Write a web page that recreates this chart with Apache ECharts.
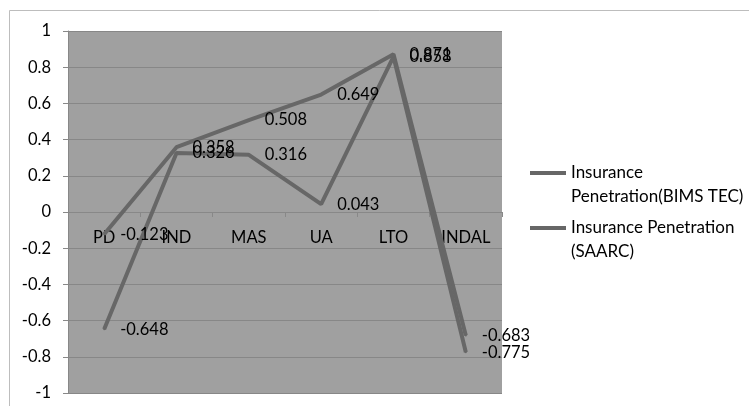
<!DOCTYPE html>
<html><head><meta charset="utf-8">
<script src="https://cdn.jsdelivr.net/npm/echarts@6/dist/echarts.min.js"></script>
<style>html,body{margin:0;padding:0;background:#fff}#c{width:749px;height:406px}</style>
</head><body><div id="c"></div>
<script>
const categories = ['PD', 'IND', 'MAS', 'UA', 'LTO', 'INDAL'];
const bimsTec = [-0.123, 0.358, 0.508, 0.649, 0.871, -0.683];
const saarc = [-0.648, 0.326, 0.316, 0.043, 0.858, -0.775];
const seriesNames = ['Insurance Penetration(BIMS TEC)', 'Insurance Penetration (SAARC)'];
const legendLines = [' \nInsurance\nPenetration(BIMS TEC)', ' \nInsurance Penetration\n(SAARC)'];

const FONT = 'Lato';
const FS = 16.5;
const GRID_H = 362;
const chart = echarts.init(document.getElementById('c'), null, {renderer: 'canvas'});
const lineColor = '#676767';
function mkSeries(name, data) {
  return {
    name: name, type: 'line', data: data,
    symbol: 'circle', symbolSize: 2, showSymbol: true,
    itemStyle: {color: lineColor},
    lineStyle: {color: lineColor, width: 4},
    label: {show: true, position: 'right', distance: 15, color: '#000', fontFamily: FONT, fontSize: FS,
      formatter: p => String(p.value)},
    animation: false
  };
}
const legendCommon = {
  orient: 'vertical', left: 530, padding: 0, icon: 'rect', itemWidth: 36, itemHeight: 4, itemGap: 0,
  textStyle: {fontFamily: FONT, fontSize: 17, color: '#000', lineHeight: 24},
  formatter: n => legendLines[seriesNames.indexOf(n)],
  itemStyle: {color: lineColor}
};
chart.setOption({
  backgroundColor: '#fff',
  animation: false,
  graphic: [{type: 'rect', shape: {x: 9.5, y: 10.5, width: 800, height: 500}, style: {fill: 'none', stroke: '#bdbdbd', lineWidth: 1}}],
  grid: {left: 68, top: 31, width: 434, height: GRID_H, show: true, backgroundColor: '#a0a0a0', borderWidth: 0,
    containLabel: false, outerBoundsMode: 'none'},
  legend: [
    Object.assign({}, legendCommon, {top: 137, data: [seriesNames[0]]}),
    Object.assign({}, legendCommon, {top: 192, data: [seriesNames[1]]})
  ],
  xAxis: {
    type: 'category', data: categories, boundaryGap: true, position: 'bottom',
    offset: -GRID_H / 2,
    axisLine: {onZero: false, lineStyle: {color: '#888', width: 1}},
    axisTick: {show: true, length: 5, inside: false, lineStyle: {color: '#888'}},
    axisLabel: {color: '#000', fontFamily: FONT, fontSize: FS, margin: 17},
    splitLine: {show: false}
  },
  yAxis: {
    type: 'value', min: -1, max: 1, interval: 0.2,
    axisLine: {show: true, lineStyle: {color: '#888'}},
    axisTick: {show: true, length: 5, lineStyle: {color: '#888'}},
    axisLabel: {color: '#000', fontFamily: FONT, fontSize: FS, margin: 17,
      formatter: v => String(Math.round(v * 10) / 10)},
    splitLine: {show: true, lineStyle: {color: '#878787', width: 1}}
  },
  series: [mkSeries(seriesNames[0], bimsTec), mkSeries(seriesNames[1], saarc)]
});
</script></body></html>
